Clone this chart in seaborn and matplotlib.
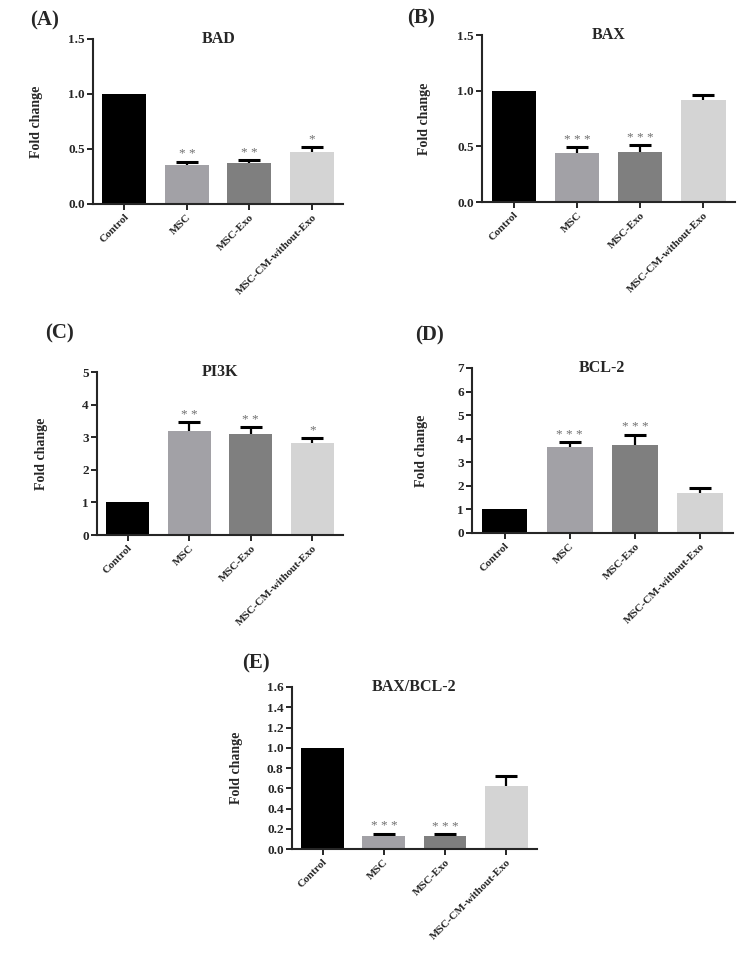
import numpy as np
import pandas as pd
import matplotlib
matplotlib.use("Agg")
import matplotlib.pyplot as plt
import seaborn as sns

groups = ["Control", "MSC", "MSC-Exo", "MSC-CM-without-Exo"]
bar_colors = ["#000000", "#a2a1a6", "#7f7f7f", "#d4d4d4"]

bad_mean = [1.0, 0.35, 0.375, 0.475]
bad_err = [0.0, 0.033, 0.02, 0.045]
bad_stars = ["", "**", "**", "*"]

bax_mean = [1.0, 0.44, 0.45, 0.915]
bax_err = [0.0, 0.055, 0.063, 0.043]
bax_stars = ["", "***", "***", ""]

pi3k_mean = [1.02, 3.19, 3.09, 2.83]
pi3k_err = [0.0, 0.27, 0.22, 0.15]
pi3k_stars = ["", "**", "**", "*"]

bcl2_mean = [1.01, 3.65, 3.73, 1.69]
bcl2_err = [0.0, 0.21, 0.44, 0.23]
bcl2_stars = ["", "***", "***", ""]

ratio_mean = [1.0, 0.13, 0.13, 0.625]
ratio_err = [0.0, 0.02, 0.018, 0.1]
ratio_stars = ["", "***", "***", ""]

sns.set_style("ticks")
plt.rcParams["font.family"] = ["Liberation Serif", "DejaVu Serif"]
plt.rcParams["font.weight"] = "bold"


def draw_panel(fig, rect, mean, err, stars, title, letter, letter_xy, yticks, fmt, ylab_x):
    ax = fig.add_axes(rect)
    df = pd.DataFrame({"group": groups, "value": mean})
    # error bars go behind the bars, so only the upper half shows (GraphPad style)
    idx = np.arange(1, len(groups))
    m = np.array(mean)[1:]
    e = np.array(err)[1:]
    ax.errorbar(idx, m, yerr=e, fmt="none", ecolor="black",
                elinewidth=1.6, capsize=8, capthick=2.2, zorder=1)
    sns.barplot(data=df, x="group", y="value", hue="group", palette=bar_colors,
                legend=False, ax=ax, width=0.7, saturation=1, linewidth=0, errorbar=None,
                zorder=2)
    for i, s in enumerate(stars):
        if s:
            ax.annotate(" ".join(s), (i, mean[i] + err[i]), xytext=(0, 1),
                        textcoords="offset points", ha="center", va="bottom",
                        fontsize=9.5, color="#707070", fontweight="normal")
    ax.set_xlim(-0.5, 3.5)
    ax.set_ylim(yticks[0], yticks[-1])
    ax.set_yticks(yticks)
    ax.set_yticklabels([fmt.format(t) for t in yticks], fontsize=9.5, fontweight="bold")
    ax.set_xticks(range(len(groups)))
    ax.set_xticklabels(groups, rotation=45, ha="right", rotation_mode="anchor",
                       fontsize=8, fontweight="bold")
    ax.set_xlabel("")
    ax.set_ylabel("Fold change", fontsize=10, fontweight="bold")
    ax.yaxis.set_label_coords(ylab_x, 0.5)
    sns.despine(ax=ax)
    for sp in ["left", "bottom"]:
        ax.spines[sp].set_linewidth(1.5)
        ax.spines[sp].set_zorder(3)
    ax.tick_params(axis="both", width=1.4, length=4, pad=2)
    ax.text(0.5, 1.0, title, transform=ax.transAxes, ha="center", va="center",
            fontsize=11.5, fontweight="bold")
    fig.text(letter_xy[0], letter_xy[1], letter, ha="center", va="center",
             fontsize=15, fontweight="bold")
    return ax


fig = plt.figure(figsize=(7.56, 9.68), dpi=100)

draw_panel(fig, [0.123, 0.7893, 0.331, 0.1705], bad_mean, bad_err, bad_stars, "BAD", "(A)",
           (45 / 756, 1 - 20 / 968), [0, 0.5, 1.0, 1.5], "{:.1f}", -0.2)
draw_panel(fig, [0.6376, 0.7913, 0.3347, 0.1725], bax_mean, bax_err, bax_stars, "BAX", "(B)",
           (421 / 756, 1 - 18 / 968), [0, 0.5, 1.0, 1.5], "{:.1f}", -0.2)
draw_panel(fig, [0.1283, 0.4473, 0.3254, 0.1684], pi3k_mean, pi3k_err, pi3k_stars, "PI3K", "(C)",
           (60 / 756, 1 - 333 / 968), [0, 1, 2, 3, 4, 5], "{:d}", -0.2)
draw_panel(fig, [0.6243, 0.4494, 0.345, 0.1705], bcl2_mean, bcl2_err, bcl2_stars, "BCL-2", "(D)",
           (429 / 756, 1 - 335 / 968), [0, 1, 2, 3, 4, 5, 6, 7], "{:d}", -0.17)
draw_panel(fig, [0.3862, 0.1229, 0.324, 0.1674], ratio_mean, ratio_err, ratio_stars, "BAX/BCL-2", "(E)",
           (256 / 756, 1 - 663 / 968), [0, 0.2, 0.4, 0.6, 0.8, 1.0, 1.2, 1.4, 1.6], "{:.1f}", -0.2)

fig.savefig("out.png", dpi=100, facecolor="white")
